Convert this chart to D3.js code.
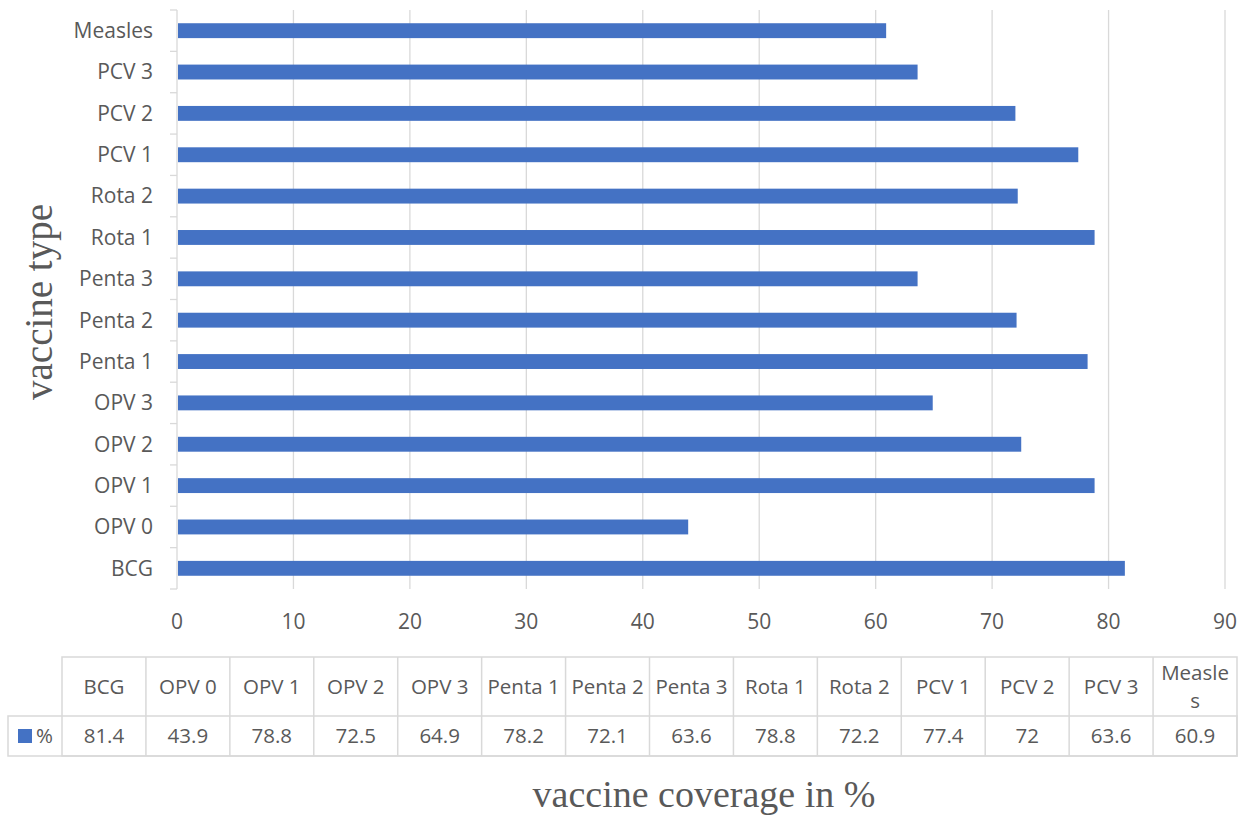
<!DOCTYPE html>
<html>
<head>
<meta charset="utf-8">
<script src="https://cdn.jsdelivr.net/npm/d3@7"></script>
<style>
  body { margin: 0; background: #fff; }
  text { font-family: "Open Sans", "Liberation Sans", sans-serif; fill: #595959; }
  .serif { font-family: "Liberation Serif", "DejaVu Serif", serif; }
</style>
</head>
<body>
<div id="chart"></div>
<script>
// vaccine coverage data
const vaccines = ["BCG", "OPV 0", "OPV 1", "OPV 2", "OPV 3", "Penta 1", "Penta 2", "Penta 3",
                  "Rota 1", "Rota 2", "PCV 1", "PCV 2", "PCV 3", "Measles"];
const coverage = [81.4, 43.9, 78.8, 72.5, 64.9, 78.2, 72.1, 63.6, 78.8, 72.2, 77.4, 72, 63.6, 60.9];
const xTicks = [0, 10, 20, 30, 40, 50, 60, 70, 80, 90];
const seriesName = "%";
// table headers that wrap inside their narrow column
const wrappedHeads = {"Measles": ["Measle", "s"]};

const W = 1245, H = 819;
const plot = {left: 177, right: 1225, top: 10, bottom: 589};
const table = {left: 8, colStart: 62, right: 1237, top: 657, mid: 716, bottom: 756};
const barColor = "#4472C4";
const gridColor = "#d9d9d9";

const svg = d3.select("#chart").append("svg")
    .attr("width", W)
    .attr("height", H);

const x = d3.scaleLinear().domain([0, 90]).range([plot.left, plot.right]);
// BCG at the bottom, Measles at the top
const y = d3.scaleBand()
    .domain(vaccines.slice().reverse())
    .range([plot.top, plot.bottom])
    .paddingInner(0.64)
    .paddingOuter(0.32);

// gridlines
svg.append("g")
    .selectAll("line")
    .data(xTicks.slice(1))
    .join("line")
    .attr("x1", d => x(d)).attr("x2", d => x(d))
    .attr("y1", plot.top).attr("y2", plot.bottom)
    .attr("stroke", gridColor)
    .attr("stroke-width", 1.3);

// y axis line with tick marks between categories
const yAxis = svg.append("g");
yAxis.append("line")
    .attr("x1", plot.left).attr("x2", plot.left)
    .attr("y1", plot.top).attr("y2", plot.bottom)
    .attr("stroke", gridColor).attr("stroke-width", 1.3);
const step = (plot.bottom - plot.top) / vaccines.length;
yAxis.selectAll(".tk")
    .data(d3.range(vaccines.length + 1))
    .join("line")
    .attr("class", "tk")
    .attr("x1", plot.left - 7).attr("x2", plot.left)
    .attr("y1", i => plot.top + i * step).attr("y2", i => plot.top + i * step)
    .attr("stroke", gridColor).attr("stroke-width", 1.3);

// category labels
yAxis.selectAll(".lbl")
    .data(vaccines)
    .join("text")
    .attr("class", "lbl")
    .attr("x", plot.left - 24)
    .attr("y", d => y(d) + y.bandwidth() / 2)
    .attr("dy", "0.35em")
    .attr("text-anchor", "end")
    .style("font-size", "21px")
    .text(d => d);

// bars
svg.append("g")
    .selectAll("rect")
    .data(vaccines.map((v, i) => ({name: v, value: coverage[i]})))
    .join("rect")
    .attr("x", x(0) + 1)
    .attr("y", d => y(d.name))
    .attr("width", d => x(d.value) - x(0) - 1)
    .attr("height", y.bandwidth())
    .attr("fill", barColor);

// x tick labels
svg.append("g")
    .selectAll("text")
    .data(xTicks)
    .join("text")
    .attr("x", d => x(d))
    .attr("y", 622)
    .attr("dy", "0.35em")
    .attr("text-anchor", "middle")
    .style("font-size", "21px")
    .text(d => d);

// data table
const colW = (table.right - table.colStart) / vaccines.length;
const tb = svg.append("g").attr("fill", "none").attr("stroke", gridColor).attr("stroke-width", 1.5);
tb.append("rect")
    .attr("x", table.colStart).attr("y", table.top)
    .attr("width", table.right - table.colStart).attr("height", table.bottom - table.top);
tb.append("rect")
    .attr("x", table.left).attr("y", table.mid)
    .attr("width", table.right - table.left).attr("height", table.bottom - table.mid);
tb.selectAll(".col")
    .data(d3.range(1, vaccines.length))
    .join("line")
    .attr("class", "col")
    .attr("x1", i => table.colStart + i * colW).attr("x2", i => table.colStart + i * colW)
    .attr("y1", table.top).attr("y2", table.bottom);

const cells = svg.append("g").style("font-size", "20.5px");
vaccines.forEach((v, i) => {
    const cx = table.colStart + (i + 0.5) * colW;
    const lines = wrappedHeads[v] || [v];
    const lineH = 28;
    const y0 = (table.top + table.mid) / 2 - (lines.length - 1) * lineH / 2;
    lines.forEach((ln, k) => {
        cells.append("text")
            .attr("x", cx)
            .attr("y", y0 + k * lineH)
            .attr("dy", "0.35em")
            .attr("text-anchor", "middle")
            .text(ln);
    });
    cells.append("text")
        .attr("x", cx)
        .attr("y", (table.mid + table.bottom) / 2)
        .attr("dy", "0.35em")
        .attr("text-anchor", "middle")
        .text(coverage[i]);
});

// legend key in the table
cells.append("rect")
    .attr("x", 18).attr("y", (table.mid + table.bottom) / 2 - 7)
    .attr("width", 14).attr("height", 14)
    .attr("fill", barColor);
cells.append("text")
    .attr("x", 36)
    .attr("y", (table.mid + table.bottom) / 2)
    .attr("dy", "0.35em")
    .text(seriesName);

// axis titles
svg.append("text")
    .attr("class", "serif")
    .attr("x", 704)
    .attr("y", 807)
    .attr("text-anchor", "middle")
    .style("font-size", "38px")
    .text("vaccine coverage in %");

svg.append("text")
    .attr("class", "serif")
    .attr("transform", "translate(52,302) rotate(-90)")
    .attr("text-anchor", "middle")
    .style("font-size", "39px")
    .text("vaccine type");
</script>
</body>
</html>
